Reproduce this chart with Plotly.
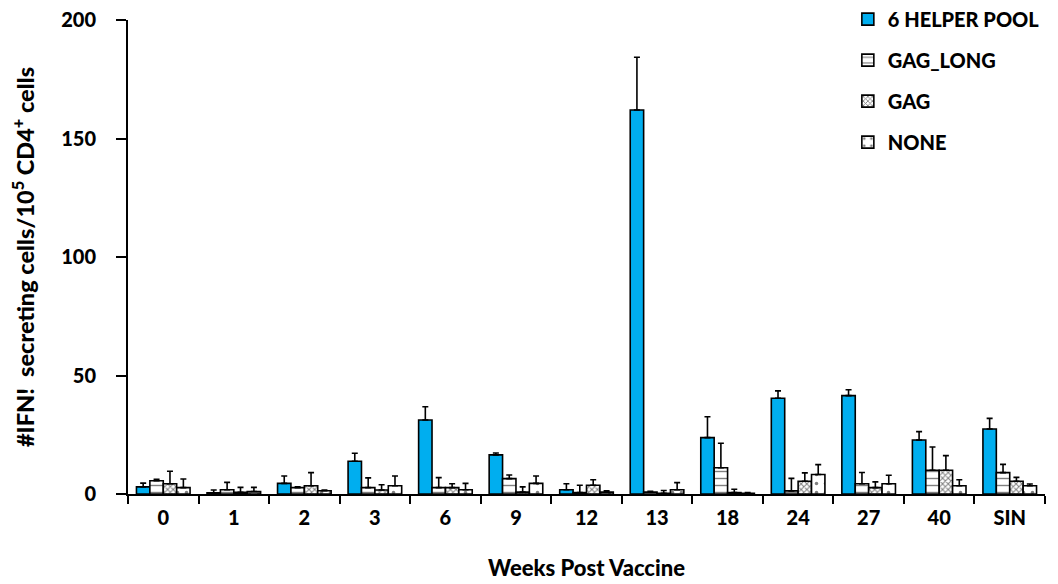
import plotly.graph_objects as go

weeks = ["0", "1", "2", "3", "6", "9", "12", "13", "18", "24", "27", "40", "SIN"]

helper_pool = [3.0, 0.5, 4.5, 13.8, 31.2, 16.5, 1.8, 162.0, 23.8, 40.4, 41.5, 22.8, 27.4]
helper_pool_err = [1.6, 1.2, 3.1, 3.4, 5.6, 0.8, 2.5, 22.3, 8.8, 3.1, 2.5, 3.5, 4.5]

gag_long = [5.6, 1.8, 2.7, 2.7, 2.7, 6.5, 0.6, 0.8, 11.1, 1.3, 4.3, 10.0, 9.0]
gag_long_err = [0.6, 3.1, 0.3, 4.1, 4.2, 1.5, 3.1, 0.3, 10.3, 5.3, 4.8, 9.8, 3.5]

gag = [4.3, 0.7, 3.5, 1.7, 2.7, 0.8, 3.7, 0.3, 0.6, 5.4, 2.7, 10.0, 5.4]
gag_err = [5.3, 2.1, 5.5, 2.2, 1.6, 2.2, 2.3, 1.2, 1.4, 3.5, 2.4, 6.2, 1.6]

none = [2.7, 1.0, 1.4, 3.5, 1.8, 4.5, 0.8, 1.8, 0.3, 8.2, 4.3, 3.5, 3.5]
none_err = [3.6, 1.8, 0.3, 4.1, 2.7, 3.1, 0.5, 3.0, 0.3, 4.2, 3.6, 2.5, 0.7]

FONT = "Lato"
W = 900
series = [
    ("6 HELPER POOL", helper_pool, helper_pool_err, "#00AEEF", dict(shape="")),
    ("GAG_LONG", gag_long, gag_long_err, "white",
     dict(shape="-", fgcolor="black", bgcolor="white", size=7, solidity=0.2)),
    ("GAG", gag, gag_err, "white",
     dict(shape="x", fgcolor="black", bgcolor="white", size=4, solidity=0.45)),
    ("NONE", none, none_err, "white",
     dict(shape=".", fgcolor="black", bgcolor="white", size=9, solidity=0.12)),
]

fig = go.Figure()
for i, (name, vals, errs, color, pat) in enumerate(series):
    fig.add_trace(go.Bar(
        x=weeks, y=vals, name=name, legendgroup=f"g{i}",
        marker=dict(color=color, line=dict(color="black", width=1.6), pattern=pat),
        error_y=dict(type="data", array=errs, arrayminus=[0] * len(errs),
                     symmetric=False, color="black", thickness=1.6, width=3),
    ))

# page body adds an 8px offset; margins compensate
fig.update_layout(
    width=1058, height=584,
    margin=dict(l=120, r=21, t=12, b=98, autoexpand=False),
    paper_bgcolor="white", plot_bgcolor="white",
    barmode="group", bargap=0.24, bargroupgap=0.0,
    font=dict(family=FONT, size=20, color="black"),
    legend=dict(x=0.785, y=1.043, xanchor="left", yanchor="top",
                font=dict(family=FONT, size=20, color="black", weight=W),
                itemwidth=30, tracegroupgap=12, bgcolor="rgba(0,0,0,0)"),
    xaxis=dict(
        showline=True, linecolor="black", linewidth=2,
        ticks="outside", tickson="boundaries", ticklen=8, tickwidth=2, tickcolor="black",
        ticklabelstandoff=5,
        tickfont=dict(family=FONT, size=20, weight=W),
        title=dict(text="Weeks Post Vaccine", font=dict(family=FONT, size=22, weight=W),
                   standoff=33),
        showgrid=False, automargin=False,
    ),
    yaxis=dict(
        range=[0, 200], dtick=50,
        showline=True, linecolor="black", linewidth=2,
        ticks="outside", ticklen=10, tickwidth=2, tickcolor="black",
        ticklabelstandoff=16, ticklabeloverflow="allow",
        tickfont=dict(family=FONT, size=20, weight=W),
        title=dict(text="#IFN!  secreting cells/10<sup>5</sup> CD4<sup>+</sup> cells",
                   font=dict(family=FONT, size=23.5, weight=W), standoff=31),
        showgrid=False, zeroline=False, automargin=False,
    ),
)

fig.write_html("out.html")
